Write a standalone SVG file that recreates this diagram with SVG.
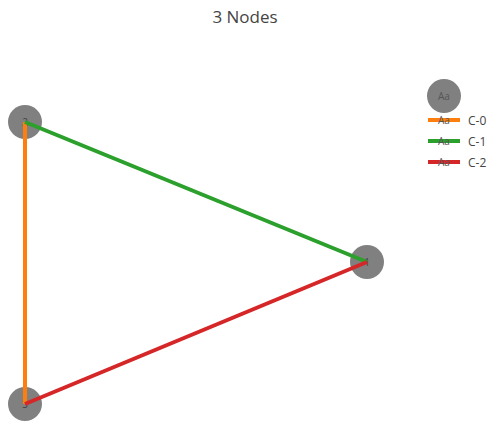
<svg xmlns="http://www.w3.org/2000/svg" width="490" height="423" viewBox="0 0 490 423">
<style>
.node{fill:#808080}
.lbl{font-family:"Open Sans",sans-serif;font-size:10px;fill:#444;text-anchor:middle}
.edge{stroke-width:4;fill:none}
.leg{font-family:"Open Sans",sans-serif;font-size:12px;fill:#444}
.aa{font-family:"Open Sans",sans-serif;font-size:10px;fill:#555;text-anchor:middle}
</style>
<rect width="490" height="423" fill="#fff"/>
<text x="245" y="23" font-family="'Open Sans',sans-serif" font-size="17" fill="#444" text-anchor="middle">3 Nodes</text>
<g id="node-2"><circle class="node" cx="25" cy="122" r="17"/><text class="lbl" x="25" y="126">2</text></g>
<g id="node-1"><circle class="node" cx="367" cy="262" r="17"/><text class="lbl" x="367" y="266">1</text></g>
<g id="node-3"><circle class="node" cx="25" cy="404" r="17"/><text class="lbl" x="25" y="408">3</text></g>
<g id="connectors">
<line class="edge" x1="25" y1="122" x2="25" y2="404" stroke="#ff7f0e"/>
<line class="edge" x1="25" y1="122" x2="367" y2="262" stroke="#2ca02c"/>
<line class="edge" x1="25" y1="404" x2="367" y2="262" stroke="#d62728"/>
</g>
<g id="legend">
<circle class="node" cx="444" cy="96" r="17"/><text class="aa" x="444" y="100">Aa</text>
<line x1="428" y1="120" x2="460" y2="120" stroke="#ff7f0e" stroke-width="4"/><text class="aa" x="444" y="124">Aa</text><text class="leg" x="468" y="125">C-0</text>
<line x1="428" y1="141" x2="460" y2="141" stroke="#2ca02c" stroke-width="4"/><text class="aa" x="444" y="145">Aa</text><text class="leg" x="468" y="146">C-1</text>
<line x1="428" y1="162" x2="460" y2="162" stroke="#d62728" stroke-width="4"/><text class="aa" x="444" y="166">Aa</text><text class="leg" x="468" y="167">C-2</text>
</g>
</svg>
